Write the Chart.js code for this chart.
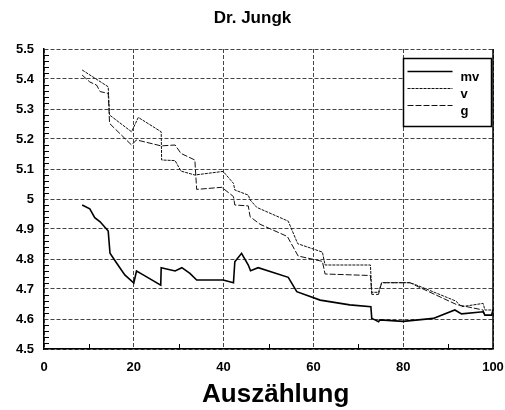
<!DOCTYPE html>
<html>
<head>
<meta charset="utf-8">
<script src="https://cdn.jsdelivr.net/npm/chart.js@4"></script>
<style>
html,body{margin:0;padding:0;background:#fff;}
canvas{display:block;}
</style>
</head>
<body>
<canvas id="c" width="505" height="410"></canvas>
<script>
// ---- data ----
const titleText = 'Dr. Jungk';
const xAxisTitle = 'Auszählung';
const seriesLabels = ['mv', 'v', 'g'];
const xTickLabels = ['0', '20', '40', '60', '80', '100'];
const yTickLabels = ['4.5', '4.6', '4.7', '4.8', '4.9', '5', '5.1', '5.2', '5.3', '5.4', '5.5'];

const mvX = [8.5, 10.2, 11.3, 12.5, 14.3, 14.7, 16.2, 18, 20, 20.6, 22.1, 26, 26.1, 29.2, 30.7, 32.5, 34, 39.9, 42.2, 42.5, 44, 45.5, 46, 47.7, 54.4, 56.3, 61.5, 68.1, 72.8, 73, 73.7, 74.5, 74.8, 80, 86.7, 91.5, 93, 97.8, 98.2, 99.7, 100];
const mvY = [4.98, 4.967, 4.938, 4.924, 4.893, 4.819, 4.786, 4.747, 4.72, 4.76, 4.747, 4.713, 4.771, 4.76, 4.771, 4.752, 4.73, 4.73, 4.721, 4.791, 4.819, 4.78, 4.761, 4.771, 4.739, 4.691, 4.663, 4.647, 4.641, 4.602, 4.597, 4.591, 4.597, 4.592, 4.602, 4.63, 4.617, 4.624, 4.613, 4.613, 4.63];

const vX = [8.5, 14.3, 14.6, 19.5, 21, 26.1, 26.2, 29.2, 30.5, 33.6, 39.9, 42.2, 42.5, 45.5, 45.9, 47.4, 54.4, 56.5, 62.0, 62.6, 72.7, 73, 74.5, 75.2, 81.5, 83, 91.7, 93, 97.8, 98.2, 100];
const vY = [5.43, 5.374, 5.28, 5.224, 5.272, 5.224, 5.13, 5.128, 5.093, 5.08, 5.092, 5.052, 5.03, 5.013, 4.997, 4.972, 4.926, 4.851, 4.823, 4.78, 4.78, 4.689, 4.689, 4.721, 4.721, 4.713, 4.66, 4.641, 4.652, 4.63, 4.63];

const gX = [8.5, 10.2, 11.7, 12.5, 14.3, 14.6, 19.5, 20.6, 26.1, 29.2, 30.5, 33.6, 34, 39.6, 42.2, 42.5, 45.5, 45.9, 48.1, 54.2, 56.6, 62.0, 62.6, 72.7, 73, 74.5, 75.2, 81.5, 83, 91.9, 97.8, 98.2, 99.7, 100];
const gY = [5.413, 5.39, 5.38, 5.358, 5.352, 5.252, 5.18, 5.197, 5.177, 5.18, 5.152, 5.13, 5.032, 5.039, 5.008, 4.98, 4.977, 4.941, 4.916, 4.875, 4.81, 4.792, 4.75, 4.745, 4.682, 4.682, 4.721, 4.721, 4.71, 4.648, 4.63, 4.612, 4.612, 4.63];

const toPoints = (xs, ys) => xs.map((x, i) => ({x: x, y: ys[i]}));

const FONT = "'Liberation Sans', Arial, sans-serif";

// minor ticks + right frame
const framePlugin = {
  id: 'frame',
  afterDatasetsDraw(chart) {
    const {ctx, chartArea: a, scales: {x, y}} = chart;
    ctx.save();
    ctx.strokeStyle = '#000';
    ctx.lineWidth = 1;
    ctx.beginPath();
    for (let k = 0; k <= 50; k++) {
      const v = 4.5 + k * 0.02;
      if (k % 5 === 0) continue;
      const py = Math.round(y.getPixelForValue(v)) + 0.5;
      ctx.moveTo(a.left, py); ctx.lineTo(a.left + 5, py);
    }
    for (let k = 10; k < 100; k += 20) {
      const px = Math.round(x.getPixelForValue(k)) + 0.5;
      ctx.moveTo(px, a.bottom); ctx.lineTo(px, a.bottom - 5);
    }
    ctx.stroke();
    ctx.lineWidth = 1.5;
    ctx.beginPath();
    ctx.moveTo(a.right, a.top); ctx.lineTo(a.right, a.bottom);
    ctx.stroke();
    ctx.restore();
  }
};

// boxed legend
const boxLegend = {
  id: 'boxLegend',
  afterDraw(chart) {
    const {ctx, scales: {x, y}} = chart;
    const left = Math.round(x.getPixelForValue(80)) + 0.5, right = Math.round(x.getPixelForValue(100)) - 1.5;
    const top = Math.round(y.getPixelForValue(5.47)) + 0.5, bottom = Math.round(y.getPixelForValue(5.243)) + 0.5;
    ctx.save();
    ctx.fillStyle = '#fff';
    ctx.fillRect(left, top, right - left, bottom - top);
    ctx.strokeStyle = '#000';
    ctx.lineWidth = 1.5;
    ctx.strokeRect(left, top, right - left, bottom - top);
    chart.data.datasets.forEach((ds, i) => {
      const ly = Math.round(top + 12 + i * 17.2) + 0.5;
      ctx.strokeStyle = ds.borderColor;
      ctx.lineWidth = ds.borderWidth;
      ctx.setLineDash(ds.borderDash || []);
      ctx.beginPath();
      ctx.moveTo(left + 4, ly); ctx.lineTo(left + 49, ly);
      ctx.stroke();
      ctx.setLineDash([]);
      ctx.fillStyle = '#000';
      ctx.font = "bold 13px " + FONT;
      ctx.textAlign = 'left';
      ctx.textBaseline = 'middle';
      ctx.fillText(ds.label, left + 57, ly + 6);
    });
    ctx.restore();
  }
};

new Chart(document.getElementById('c'), {
  type: 'line',
  data: {
    datasets: [
      {label: seriesLabels[0], data: toPoints(mvX, mvY), borderColor: '#000', borderWidth: 1.6, pointRadius: 0, tension: 0, fill: false},
      {label: seriesLabels[1], data: toPoints(vX, vY), borderColor: '#111', borderWidth: 1, borderDash: [3, 1], pointRadius: 0, tension: 0, fill: false},
      {label: seriesLabels[2], data: toPoints(gX, gY), borderColor: '#111', borderWidth: 1, borderDash: [6, 2], pointRadius: 0, tension: 0, fill: false}
    ]
  },
  options: {
    responsive: false,
    animation: false,
    events: [],
    layout: {padding: 0},
    plugins: {
      legend: {display: false},
      tooltip: {enabled: false},
      title: {
        display: true, text: titleText, color: '#000',
        font: {family: FONT, size: 17, weight: 'bold', lineHeight: 1.2},
        padding: {top: 8, bottom: 20.6}
      }
    },
    scales: {
      x: {
        type: 'linear', min: 0, max: 100,
        afterFit(s) { s.height = 61; s.paddingLeft = 0; s.paddingRight = 12; },
        grid: {color: '#444', lineWidth: 1, drawTicks: false},
        border: {display: true, color: '#000', width: 1.5, dash: [4, 2]},
        ticks: {
          stepSize: 20, padding: 11, color: '#000', maxRotation: 0,
          font: {family: FONT, size: 13, weight: 'bold'},
          callback: (v) => xTickLabels[Math.round(v / 20)]
        },
        title: {
          display: true, text: '  ' + xAxisTitle, color: '#000',
          font: {family: FONT, size: 26, weight: 'bold', lineHeight: 1.2},
          padding: {top: 0, bottom: 0}
        }
      },
      y: {
        type: 'linear', min: 4.5, max: 5.5,
        afterFit(s) { s.width = 44; },
        grid: {color: '#444', lineWidth: 1, drawTicks: false},
        border: {display: true, color: '#000', width: 1.5, dash: [4, 2]},
        ticks: {
          stepSize: 0.1, padding: 10, color: '#000',
          font: {family: FONT, size: 13, weight: 'bold'},
          callback: (v) => yTickLabels[Math.round((v - 4.5) * 10)]
        }
      }
    }
  },
  plugins: [framePlugin, boxLegend]
});
</script>
</body>
</html>
